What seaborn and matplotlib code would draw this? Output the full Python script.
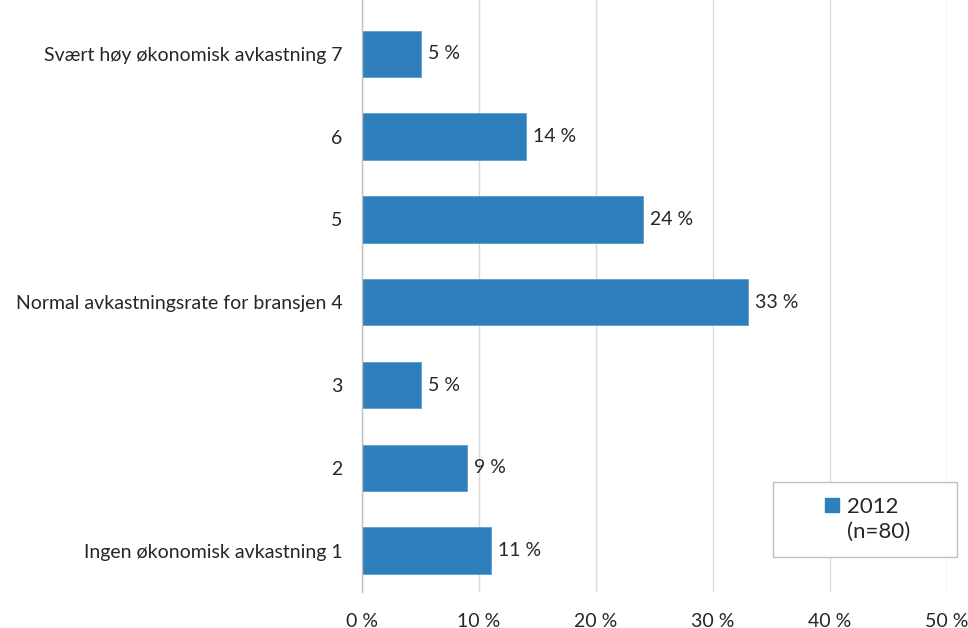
import matplotlib
matplotlib.use("Agg")
import matplotlib.pyplot as plt
import seaborn as sns
import pandas as pd
from matplotlib.patches import Patch, Rectangle

categories = [
    "Svært høy økonomisk avkastning 7",
    "6",
    "5",
    "Normal avkastningsrate for bransjen 4",
    "3",
    "2",
    "Ingen økonomisk avkastning 1",
]
values = [5, 14, 24, 33, 5, 9, 11]
legend_lines = ["2012", "(n=80)"]
xticks = [0, 10, 20, 30, 40, 50]

df = pd.DataFrame({"kategori": categories, "andel": values})

sns.set_theme(style="white")
plt.rcParams["font.family"] = ["Lato", "DejaVu Sans"]

bar_color = "#2F7FBC"
text_color = "#262626"
fs = 14

fig = plt.figure(figsize=(9.68, 6.28), dpi=100)
ax = fig.add_axes([362 / 968, 1 - 592 / 628, (947 - 362) / 968, 592 / 628])

sns.barplot(data=df, y="kategori", x="andel", orient="h", color=bar_color,
            width=0.56, saturation=1, ax=ax, edgecolor="#5a9fd4", linewidth=0.6)

ax.set_xlim(0, 50)
ax.set_ylim(6.5, -0.65)
ax.set_xticks(xticks)
ax.set_xticklabels([f"{t} %" for t in xticks], fontsize=fs, color=text_color)
ax.tick_params(axis="x", length=0, pad=15)
ax.tick_params(axis="y", length=0, pad=14, labelsize=fs, labelcolor=text_color)
ax.set_xlabel("")
ax.set_ylabel("")

ax.grid(axis="x", color="#d9d9d9", linewidth=1)
ax.set_axisbelow(True)
for side in ["top", "right", "bottom"]:
    ax.spines[side].set_visible(False)
ax.spines["left"].set_color("#bfbfbf")
ax.spines["left"].set_linewidth(1)

for i, v in enumerate(values):
    ax.text(v + 0.6, i, f"{v} %", va="center", ha="left",
            fontsize=fs, color=text_color)

# legend box in figure pixels
bx0, bx1, by0, by1 = 773, 957, 482, 557
frame = Rectangle((bx0 / 968, 1 - by1 / 628), (bx1 - bx0) / 968, (by1 - by0) / 628,
                  transform=fig.transFigure, facecolor="white",
                  edgecolor="#bfbfbf", linewidth=1, zorder=5)
fig.patches.append(frame)

handles = [Patch(facecolor=bar_color, edgecolor=bar_color),
           Patch(facecolor="none", edgecolor="none")]
leg = fig.legend(handles, legend_lines, loc="center",
                 bbox_to_anchor=((bx0 + bx1) / 2 / 968 + 0.003, 1 - (by0 + by1) / 2 / 628),
                 frameon=False, fontsize=16, handlelength=0.6, handleheight=0.6,
                 handletextpad=0.4, labelspacing=0.25, borderpad=0)
leg.set_zorder(6)
for t in leg.get_texts():
    t.set_color(text_color)

fig.savefig("out.png", dpi=100, facecolor="white")
